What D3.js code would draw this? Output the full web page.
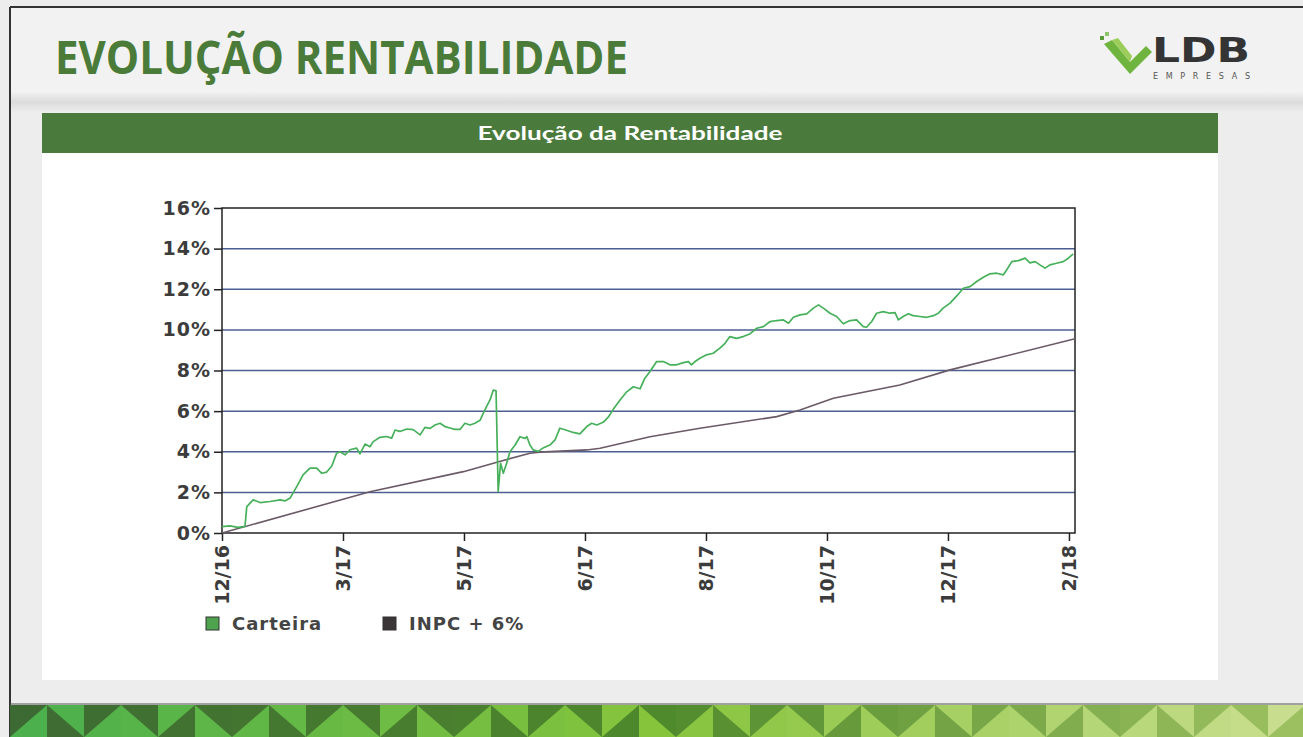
<!DOCTYPE html>
<html>
<head>
<meta charset="utf-8">
<script src="https://cdn.jsdelivr.net/npm/d3@7"></script>
<style>
  html, body { margin: 0; padding: 0; background: #ededed; }
  svg { display: block; }
</style>
</head>
<body>
<svg id="chart" width="1303" height="737"></svg>
<script>
// dados (índice = pregão, valor em %)
const yTicks = [0, 2, 4, 6, 8, 10, 12, 14, 16];
const xTickIdx = [0, 40, 80, 120, 160, 200, 240, 280];
const xLabels = ["12/16", "3/17", "5/17", "6/17", "8/17", "10/17", "12/17", "2/18"];

const carteiraIdx = [0, 2.6, 5.3, 7.6, 8.2, 10.3, 12.6, 15.9, 19.2, 20.8, 22.5, 24.7, 26.8, 29.1, 31.3, 33.0, 34.6, 36.3, 37.9, 39.0,
  40.7, 42.3, 44.5, 45.6, 47.3, 48.9, 50.0, 52.2, 54.4, 56.1, 57.2, 58.8, 61.1, 63.2, 65.5, 67.1, 68.8, 70.4, 72.1, 73.7,
  75.4, 77.0, 78.7, 80.3, 82.0, 83.6, 85.3, 86.9, 88.6, 89.7, 90.6, 91.3, 92.1, 93.0, 94.1, 95.2, 96.9, 98.5, 100.2, 100.8,
  101.8, 102.9, 104.5, 106.1, 108.4, 110.1, 111.7, 113.4, 116.1, 118.3, 120.6, 122.2, 123.9, 126.0, 127.7, 129.4, 131.6, 133.8, 136.0, 138.2,
  139.8, 141.5, 143.7, 145.9, 148.1, 150.3, 152.5, 154.2, 155.2, 156.4, 158.0, 160.2, 162.4, 164.6, 166.3, 167.9, 170.1, 172.3, 174.5, 176.8,
  179.0, 181.2, 183.4, 185.6, 187.3, 188.9, 191.1, 193.3, 195.5, 197.2, 198.8, 201.0, 203.2, 205.4, 207.6, 209.8, 212.0, 213.1, 214.8, 216.4,
  218.6, 220.8, 222.5, 223.6, 225.2, 226.9, 228.5, 230.7, 233.0, 235.2, 236.8, 238.4, 240.7, 242.9, 245.1, 247.3, 249.5, 251.7, 253.9, 256.1,
  258.3, 259.4, 261.1, 263.3, 265.5, 267.1, 268.8, 270.4, 272.1, 273.7, 275.9, 278.1, 279.8, 281.4];
const carteiraVal = [0.31, 0.35, 0.28, 0.33, 1.30, 1.63, 1.50, 1.55, 1.63, 1.58, 1.72, 2.28, 2.86, 3.19, 3.19, 2.94, 3.00, 3.30, 3.93, 4.00,
  3.85, 4.10, 4.18, 3.90, 4.38, 4.25, 4.50, 4.71, 4.75, 4.67, 5.07, 5.00, 5.12, 5.09, 4.83, 5.20, 5.15, 5.32, 5.40, 5.24,
  5.17, 5.10, 5.10, 5.40, 5.32, 5.40, 5.55, 6.06, 6.55, 7.04, 7.00, 2.05, 3.43, 2.94, 3.43, 4.00, 4.33, 4.74, 4.66, 4.74,
  4.33, 4.09, 4.02, 4.18, 4.33, 4.58, 5.16, 5.08, 4.95, 4.88, 5.24, 5.40, 5.32, 5.45, 5.70, 6.10, 6.55, 6.95, 7.20, 7.10,
  7.62, 7.95, 8.44, 8.44, 8.28, 8.28, 8.39, 8.44, 8.28, 8.44, 8.60, 8.77, 8.85, 9.10, 9.34, 9.67, 9.58, 9.67, 9.80, 10.08,
  10.16, 10.41, 10.46, 10.49, 10.33, 10.62, 10.74, 10.79, 11.07, 11.23, 11.07, 10.82, 10.66, 10.30, 10.46, 10.49, 10.16, 10.13, 10.41, 10.82,
  10.90, 10.82, 10.85, 10.49, 10.66, 10.79, 10.70, 10.66, 10.62, 10.70, 10.82, 11.07, 11.32, 11.67, 12.05, 12.13, 12.38, 12.59, 12.76, 12.79,
  12.71, 12.95, 13.36, 13.41, 13.53, 13.30, 13.36, 13.20, 13.04, 13.20, 13.28, 13.36, 13.53, 13.74];

const inpcIdx = [0, 48.9, 79.8, 91.2, 101.8, 105.1, 120.6, 125.0, 141.5, 158.0, 183.4, 191.1, 202.1, 224.1, 240.7, 282.0];
const inpcVal = [0, 2.03, 3.02, 3.50, 3.93, 3.98, 4.09, 4.17, 4.74, 5.16, 5.73, 6.06, 6.63, 7.29, 8.03, 9.56];

const seriesNames = ["Carteira", "INPC + 6%"];

const svg = d3.select("#chart");

// fundo do slide
const defs = svg.append("defs");
const band = defs.append("linearGradient").attr("id", "band").attr("x1", 0).attr("y1", 0).attr("x2", 0).attr("y2", 1);
band.append("stop").attr("offset", "0%").attr("stop-color", "#f1f1f1");
band.append("stop").attr("offset", "50%").attr("stop-color", "#dcdcdc");
band.append("stop").attr("offset", "100%").attr("stop-color", "#ececec");

svg.append("rect").attr("width", 1303).attr("height", 737).attr("fill", "#ededed");
svg.append("rect").attr("x", 10).attr("y", 7).attr("width", 1293).attr("height", 88).attr("fill", "#f2f2f2");
svg.append("rect").attr("x", 10).attr("y", 92).attr("width", 1293).attr("height", 20).attr("fill", "url(#band)");

// moldura
svg.append("line").attr("x1", 10).attr("y1", 7).attr("x2", 1303).attr("y2", 7).attr("stroke", "#333").attr("stroke-width", 2);
svg.append("line").attr("x1", 10).attr("y1", 7).attr("x2", 10).attr("y2", 737).attr("stroke", "#333").attr("stroke-width", 2);

// título
svg.append("text")
  .attr("x", 55).attr("y", 74)
  .attr("textLength", 573).attr("lengthAdjust", "spacingAndGlyphs")
  .style("font-family", "'Open Sans', sans-serif").style("font-weight", 700).style("font-size", "46px")
  .attr("fill", "#4b7b38")
  .text("EVOLUÇÃO RENTABILIDADE");

// logo
const logo = svg.append("g");
logo.append("path")
  .attr("d", "M1104,44 L1112,40 L1130,62 L1146,46 L1152,52 L1130,74 Z")
  .attr("fill", "#6fb43f");
logo.append("path")
  .attr("d", "M1112,40 L1118,38 L1132,56 L1130,62 Z")
  .attr("fill", "#9ccc5a");
logo.append("rect").attr("x", 1100).attr("y", 36).attr("width", 4).attr("height", 4).attr("fill", "#5a9a3a");
logo.append("rect").attr("x", 1105).attr("y", 32).attr("width", 4).attr("height", 4).attr("fill", "#8cc46a");
logo.append("text")
  .attr("x", 1152).attr("y", 62)
  .attr("textLength", 98).attr("lengthAdjust", "spacingAndGlyphs")
  .style("font-family", "'DejaVu Sans', sans-serif").style("font-weight", 700).style("font-size", "34px")
  .attr("fill", "#343434")
  .text("LDB");
logo.append("text")
  .attr("x", 1153).attr("y", 79)
  .attr("textLength", 97).attr("lengthAdjust", "spacing")
  .style("font-family", "'DejaVu Sans', sans-serif").style("font-size", "8px")
  .attr("fill", "#555")
  .text("EMPRESAS");

// painel branco + cabeçalho
svg.append("rect").attr("x", 42).attr("y", 113).attr("width", 1176).attr("height", 567).attr("fill", "#ffffff");
svg.append("rect").attr("x", 42).attr("y", 113).attr("width", 1176).attr("height", 40).attr("fill", "#4a7a3c");
svg.append("text")
  .attr("x", 630).attr("y", 140).attr("text-anchor", "middle")
  .attr("textLength", 305).attr("lengthAdjust", "spacingAndGlyphs")
  .style("font-family", "Lato, sans-serif").style("font-weight", 700).style("font-size", "18px")
  .attr("fill", "#ffffff")
  .text("Evolução da Rentabilidade");

// escalas
const x = d3.scaleLinear().domain([0, 282]).range([222, 1075]);
const y = d3.scaleLinear().domain([0, 16]).range([533, 208]);

// grade
svg.append("g")
  .selectAll("line")
  .data(yTicks.filter(d => d > 0 && d < 16))
  .join("line")
  .attr("x1", x(0)).attr("x2", x(282))
  .attr("y1", d => y(d)).attr("y2", d => y(d))
  .attr("stroke", "#4d5f92").attr("stroke-width", 1.5);

// eixos
const labelFont = g => g.selectAll("text")
  .style("font-family", "'DejaVu Sans', sans-serif")
  .style("font-weight", 700)
  .attr("fill", "#3c3c3c");

const yAxis = svg.append("g")
  .attr("transform", `translate(${x(0)},0)`)
  .call(d3.axisLeft(y).tickValues(yTicks).tickFormat(d => d + "%").tickSize(8).tickPadding(3))
  .call(g => g.select(".domain").remove())
  .call(g => g.selectAll("line").attr("stroke", "#222").attr("stroke-width", 1.5))
  .call(labelFont)
  .call(g => g.selectAll("text").style("font-size", "19px").style("letter-spacing", "1px"));

const xAxis = svg.append("g")
  .attr("transform", `translate(0,${y(0)})`)
  .call(d3.axisBottom(x).tickValues(xTickIdx).tickFormat((d, i) => xLabels[i]).tickSize(8))
  .call(g => g.select(".domain").remove())
  .call(g => g.selectAll("line").attr("stroke", "#222").attr("stroke-width", 1.5))
  .call(labelFont)
  .call(g => g.selectAll("text")
    .style("font-size", "19px")
    .attr("text-anchor", "end")
    .attr("transform", "rotate(-90)")
    .attr("x", -12).attr("y", 0).attr("dy", "0.35em"));

// borda da área do gráfico
svg.append("rect")
  .attr("x", x(0)).attr("y", y(16))
  .attr("width", x(282) - x(0)).attr("height", y(0) - y(16))
  .attr("fill", "none").attr("stroke", "#222").attr("stroke-width", 1.5);

// linhas
const inpcData = inpcIdx.map((d, i) => [d, inpcVal[i]]);
const carteiraData = carteiraIdx.map((d, i) => [d, carteiraVal[i]]);
const line = d3.line().x(d => x(d[0])).y(d => y(d[1]));

svg.append("path").datum(inpcData)
  .attr("d", line).attr("fill", "none")
  .attr("stroke", "#6a5a66").attr("stroke-width", 1.6);

svg.append("path").datum(carteiraData)
  .attr("d", line).attr("fill", "none")
  .attr("stroke", "#47b05a").attr("stroke-width", 1.7).attr("stroke-linejoin", "round");

// legenda
const legendColors = ["#4fa34f", "#3a3537"];
const legendX = [206, 383];
const legend = svg.append("g").selectAll("g")
  .data(seriesNames)
  .join("g")
  .attr("transform", (d, i) => `translate(${legendX[i]},617)`);
legend.append("rect")
  .attr("width", 13).attr("height", 13)
  .attr("fill", (d, i) => legendColors[i])
  .attr("stroke", "#333").attr("stroke-width", 1);
legend.append("text")
  .attr("x", 26).attr("y", 13)
  .style("font-family", "'DejaVu Sans', sans-serif").style("font-weight", 700).style("font-size", "18px")
  .style("letter-spacing", "1px")
  .attr("fill", "#444")
  .text(d => d);

// faixa decorativa de triângulos
const cellW = 37;
const nCells = Math.ceil((1303 - 10) / cellW);
const darkScale = d3.scaleLinear().domain([0, 0.5, 1]).range(["#3d6a33", "#4f8a2c", "#9cc060"]);
const lightScale = d3.scaleLinear().domain([0, 0.5, 1]).range(["#4cb04c", "#86c43c", "#c9dd8e"]);
const cells = d3.range(nCells);
const banner = svg.append("g");
banner.append("line").attr("x1", 10).attr("x2", 1303).attr("y1", 704).attr("y2", 704).attr("stroke", "#555").attr("stroke-width", 1);
cells.forEach(k => {
  const x0 = 10 + k * cellW, x1 = x0 + cellW, y0 = 705, y1 = 737;
  const t = k / (nCells - 1);
  const dark = darkScale(t), light = lightScale(t);
  const flip = (k % 2 === 0);
  banner.append("rect").attr("x", x0).attr("y", y0).attr("width", cellW + 0.5).attr("height", y1 - y0)
    .attr("fill", k % 3 === 1 ? light : dark);
  const pts = flip ? [[x0, y1], [x1, y0], [x1, y1]] : [[x0, y0], [x0, y1], [x1, y1]];
  banner.append("polygon")
    .attr("points", pts.map(p => p.join(",")).join(" "))
    .attr("fill", k % 3 === 1 ? dark : light);
});
</script>
</body>
</html>
